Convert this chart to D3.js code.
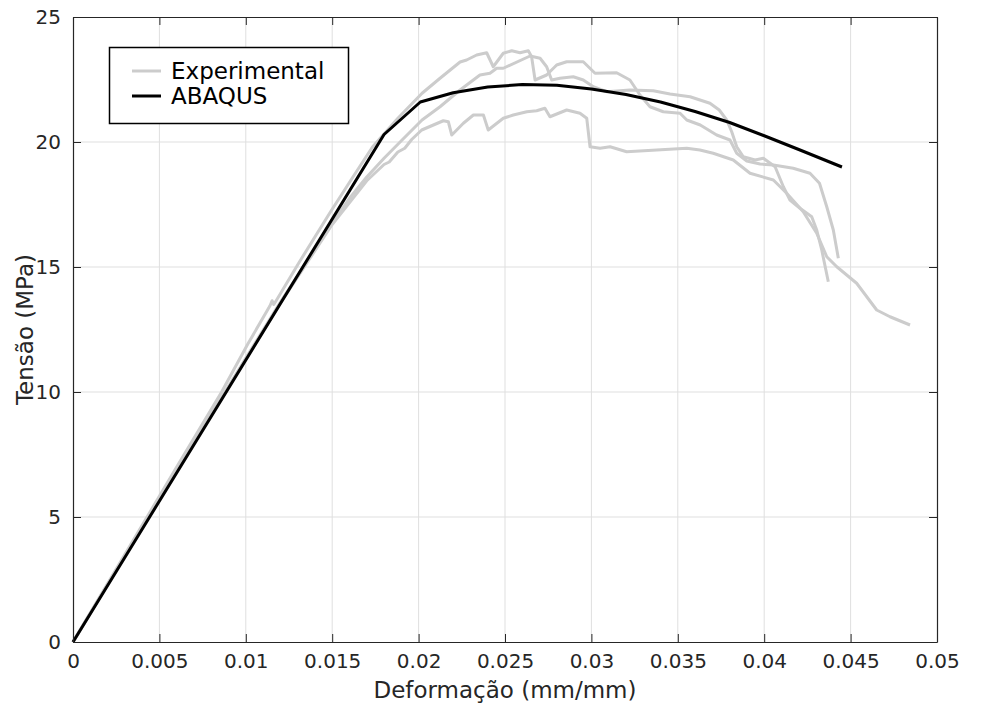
<!DOCTYPE html>
<html>
<head>
<meta charset="utf-8">
<script src="https://cdn.jsdelivr.net/npm/d3@7"></script>
<style>
  html, body { margin: 0; padding: 0; background: #fff; }
  svg { display: block; font-family: "DejaVu Sans", Verdana, sans-serif; }
</style>
</head>
<body>
<svg id="chart" width="981" height="709"></svg>
<script>
// Strain (mm/mm) and stress (MPa) for the three experimental specimens
const expA_strain = [0, 0.003, 0.006, 0.0086, 0.0101, 0.0114, 0.01152, 0.01162, 0.0118, 0.0131, 0.01485, 0.0162, 0.01733, 0.0188, 0.0202, 0.02124, 0.0224, 0.02278, 0.02336, 0.02394, 0.02432, 0.0249, 0.02539, 0.02587, 0.02635, 0.02654, 0.02674, 0.02741, 0.02799, 0.02857, 0.02953, 0.03021, 0.03146, 0.03223, 0.03281, 0.03339, 0.03416, 0.03513, 0.03552, 0.0363, 0.03725, 0.03802, 0.03841, 0.03899, 0.03976, 0.04053, 0.04168, 0.04265, 0.0432, 0.04362, 0.044, 0.04429];
const expA_stress = [0, 3.5, 7.0, 10.0, 11.9, 13.45, 13.65, 13.5, 13.7, 15.2, 17.15, 18.6, 19.8, 20.95, 21.95, 22.55, 23.2, 23.28, 23.48, 23.57, 23.01, 23.55, 23.65, 23.57, 23.65, 23.41, 22.48, 22.68, 23.08, 23.21, 23.21, 22.75, 22.77, 22.48, 21.88, 21.41, 21.21, 21.15, 20.88, 20.68, 20.28, 20.08, 19.55, 19.24, 19.12, 19.08, 18.95, 18.75, 18.35, 17.41, 16.48, 15.35];

const expB_strain = [0, 0.004, 0.008, 0.012, 0.015, 0.016, 0.017, 0.018, 0.019, 0.0202, 0.02124, 0.0224, 0.02355, 0.02413, 0.02452, 0.0249, 0.02645, 0.02703, 0.02741, 0.0277, 0.02818, 0.02895, 0.02953, 0.03011, 0.03089, 0.03223, 0.03358, 0.03455, 0.03571, 0.03686, 0.0374, 0.03783, 0.03812, 0.03841, 0.03879, 0.03947, 0.03995, 0.04063, 0.04111, 0.04149, 0.04207, 0.04275, 0.04304, 0.04333, 0.04371];
const expB_stress = [0, 4.6, 9.1, 13.6, 16.75, 17.75, 18.6, 19.35, 20.05, 20.88, 21.41, 22.08, 22.68, 22.75, 22.95, 22.95, 23.44, 23.35, 23.01, 22.48, 22.55, 22.61, 22.48, 22.21, 22.01, 22.08, 22.05, 21.92, 21.81, 21.55, 21.28, 20.88, 20.41, 19.81, 19.41, 19.28, 19.35, 19.01, 18.21, 17.68, 17.35, 17.01, 16.48, 15.68, 14.41];

const expC_strain = [0, 0.004, 0.008, 0.012, 0.015, 0.017, 0.018, 0.0183, 0.0188, 0.0192, 0.0196, 0.02018, 0.02143, 0.02172, 0.02192, 0.02259, 0.02317, 0.02375, 0.02403, 0.0249, 0.02548, 0.02626, 0.02683, 0.02731, 0.0276, 0.02857, 0.02934, 0.02973, 0.02992, 0.0305, 0.03108, 0.03204, 0.03378, 0.03552, 0.03628, 0.03705, 0.03821, 0.03918, 0.04053, 0.0413, 0.04226, 0.04304, 0.04362, 0.0442, 0.04535, 0.04651, 0.04728, 0.04844];
const expC_stress = [0, 4.6, 9.1, 13.55, 16.7, 18.45, 19.1, 19.2, 19.6, 19.75, 20.1, 20.48, 20.85, 20.81, 20.28, 20.75, 21.08, 21.08, 20.48, 20.95, 21.08, 21.21, 21.25, 21.35, 21.01, 21.28, 21.15, 20.95, 19.81, 19.75, 19.81, 19.61, 19.68, 19.75, 19.68, 19.55, 19.28, 18.75, 18.48, 17.95, 17.21, 16.35, 15.41, 15.01, 14.35, 13.28, 13.01, 12.68];

// Numerical model response (straight elastic branch, then softening)
const abaqus_strain = [0, 0.018, 0.0201, 0.022, 0.024, 0.026, 0.028, 0.030, 0.032, 0.034, 0.036, 0.038, 0.040, 0.042, 0.0445];
const abaqus_stress = [0, 20.3, 21.6, 21.97, 22.2, 22.3, 22.27, 22.12, 21.9, 21.6, 21.22, 20.78, 20.25, 19.7, 19.0];

const xTicks = [0, 0.005, 0.01, 0.015, 0.02, 0.025, 0.03, 0.035, 0.04, 0.045, 0.05];
const yTicks = [0, 5, 10, 15, 20, 25];
const seriesNames = ["Experimental", "ABAQUS"];

const svg = d3.select("#chart");
const plotL = 73, plotR = 937, plotT = 17, plotB = 642;
const x = d3.scaleLinear().domain([0, 0.05]).range([plotL, plotR]);
const y = d3.scaleLinear().domain([0, 25]).range([plotB, plotT]);
const axisColor = "#262626";
const tickLen = 8;

// grid
const grid = svg.append("g");
grid.selectAll(".gx").data(xTicks.slice(1, -1)).join("line")
  .attr("x1", d => x(d)).attr("x2", d => x(d)).attr("y1", plotT).attr("y2", plotB)
  .attr("stroke", "#dfdfdf").attr("stroke-width", 1);
grid.selectAll(".gy").data(yTicks.slice(1, -1)).join("line")
  .attr("y1", d => y(d)).attr("y2", d => y(d)).attr("x1", plotL).attr("x2", plotR)
  .attr("stroke", "#dfdfdf").attr("stroke-width", 1);

// curves
const line = d3.line().x(d => x(d[0])).y(d => y(d[1]));
const zipPts = (xs, ys) => xs.map((v, i) => [v, ys[i]]);
const expSeries = [
  zipPts(expA_strain, expA_stress),
  zipPts(expB_strain, expB_stress),
  zipPts(expC_strain, expC_stress)
];
svg.append("g").selectAll("path").data(expSeries).join("path")
  .attr("d", line).attr("fill", "none").attr("stroke", "#cccccc")
  .attr("stroke-width", 3).attr("stroke-linejoin", "round").attr("stroke-linecap", "butt");
svg.append("path").datum(zipPts(abaqus_strain, abaqus_stress))
  .attr("d", line)
  .attr("fill", "none").attr("stroke", "#000").attr("stroke-width", 3)
  .attr("stroke-linejoin", "round");

// axes box with inward ticks on all sides
const xAxisB = d3.axisBottom(x).tickValues(xTicks).tickFormat(d => d3.format("~g")(d)).tickSizeInner(-tickLen).tickSizeOuter(0).tickPadding(12);
const xAxisT = d3.axisTop(x).tickValues(xTicks).tickFormat("").tickSizeInner(-tickLen).tickSizeOuter(0);
const yAxisL = d3.axisLeft(y).tickValues(yTicks).tickSizeInner(-tickLen).tickSizeOuter(0).tickPadding(12);
const yAxisR = d3.axisRight(y).tickValues(yTicks).tickFormat("").tickSizeInner(-tickLen).tickSizeOuter(0);

function styleAxis(g) {
  g.select(".domain").attr("stroke", axisColor).attr("stroke-width", 1.2);
  g.selectAll(".tick line").attr("stroke", axisColor).attr("stroke-width", 1);
  g.selectAll(".tick text").attr("fill", axisColor).attr("font-size", 20)
    .attr("font-family", "DejaVu Sans");
}
svg.append("g").attr("transform", `translate(0,${plotB})`).call(xAxisB).call(styleAxis);
svg.append("g").attr("transform", `translate(0,${plotT})`).call(xAxisT).call(styleAxis);
svg.append("g").attr("transform", `translate(${plotL},0)`).call(yAxisL).call(styleAxis);
svg.append("g").attr("transform", `translate(${plotR},0)`).call(yAxisR).call(styleAxis);

// axis titles
svg.append("text").attr("x", (plotL + plotR) / 2).attr("y", 698)
  .attr("text-anchor", "middle").attr("font-size", 23).attr("fill", axisColor)
  .text("Deformação (mm/mm)");
svg.append("text").attr("transform", `translate(33,${(plotT + plotB) / 2}) rotate(-90)`)
  .attr("text-anchor", "middle").attr("font-size", 23).attr("fill", axisColor)
  .text("Tensão (MPa)");

// legend
const lg = svg.append("g");
lg.append("rect").attr("x", 109.5).attr("y", 47.5).attr("width", 239).attr("height", 76)
  .attr("fill", "#fff").attr("stroke", "#000").attr("stroke-width", 1.5);
const legendColors = ["#cccccc", "#000"];
seriesNames.forEach((name, i) => {
  const ly = 71 + i * 25;
  lg.append("line").attr("x1", 132).attr("x2", 161).attr("y1", ly).attr("y2", ly)
    .attr("stroke", legendColors[i]).attr("stroke-width", 3);
  lg.append("text").attr("x", 171).attr("y", ly + 8).attr("font-size", 23)
    .attr("fill", "#000").text(name);
});
</script>
</body>
</html>
